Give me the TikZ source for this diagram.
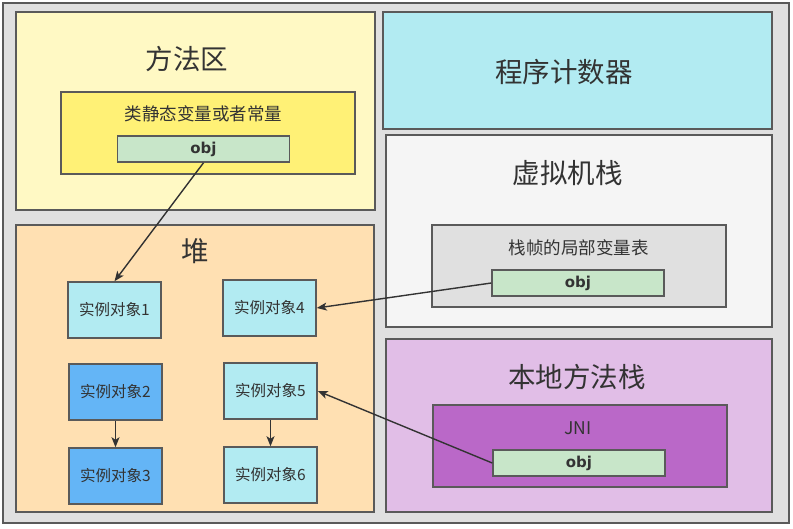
\documentclass[tikz,border=0pt]{standalone}
\usepackage{fontspec}
\setmainfont{Noto Sans CJK SC}
\newfontfamily\objfont{DejaVu Sans}
\usetikzlibrary{arrows.meta}
\definecolor{bordc}{HTML}{5A5A5A}
\definecolor{txtc}{HTML}{333333}
\definecolor{outerc}{HTML}{E0E0E0}
\definecolor{methodc}{HTML}{FFF9C4}
\definecolor{staticc}{HTML}{FFF176}
\definecolor{objc}{HTML}{C8E6C9}
\definecolor{pcc}{HTML}{B2EBF2}
\definecolor{vmsc}{HTML}{F5F5F5}
\definecolor{framec}{HTML}{E0E0E0}
\definecolor{nativec}{HTML}{E1BEE7}
\definecolor{jnic}{HTML}{BA68C8}
\definecolor{heapc}{HTML}{FFE0B2}
\definecolor{instc}{HTML}{B2EBF2}
\definecolor{inst2c}{HTML}{64B5F6}
\begin{document}
\begin{tikzpicture}[x=1pt,y=-1pt,
  region/.style={draw=bordc,line width=1.5pt,inner sep=0pt,rectangle},
  title/.style={text=txtc,font=\fontsize{27.5}{32}\selectfont,inner sep=0pt},
  subtitle/.style={text=txtc,font=\fontsize{17.5}{20}\selectfont,inner sep=0pt},
  objbox/.style={region,fill=objc,minimum width=172pt,minimum height=26pt,text=txtc,font=\objfont\bfseries\fontsize{15}{17}\selectfont},
  inst/.style={region,fill=instc,minimum width=93pt,minimum height=56pt,text=txtc,font=\fontsize{15.5}{18}\selectfont},
  conn/.style={draw=txtc,line width=1.4pt,-{Stealth[length=10pt,width=8pt,inset=2.5pt]}}
]
\useasboundingbox (0,0) rectangle (793,528);
\fill[white] (0,0) rectangle (793,528);
\node[region,fill=outerc,minimum width=786pt,minimum height=520pt] (outer) at (396,263) {};

% method area
\node[region,fill=methodc,minimum width=359pt,minimum height=198pt] (method) at (195.5,111) {};
\node[title] (methodt) at (187,59) {方法区};
\node[region,fill=staticc,minimum width=294pt,minimum height=82pt] (static) at (208,133) {};
\node[subtitle] (statict) at (203.5,114) {类静态变量或者常量};
\node[objbox] (obj1) at (203.5,149) {\raisebox{-1.5pt}{obj}};

% program counter
\node[region,fill=pcc,minimum width=389pt,minimum height=117pt] (pc) at (577.5,70.5) {};
\node[title] (pct) at (564,72) {程序计数器};

% vm stack
\node[region,fill=vmsc,minimum width=386pt,minimum height=192pt] (vms) at (579,231) {};
\node[title] (vmst) at (567.5,173) {虚拟机栈};
\node[region,fill=framec,minimum width=294pt,minimum height=82pt] (frame) at (579,266) {};
\node[subtitle] (framet) at (578.5,248) {栈帧的局部变量表};
\node[objbox] (obj2) at (578,283) {\raisebox{-1.5pt}{obj}};

% native method stack
\node[region,fill=nativec,minimum width=386pt,minimum height=173pt] (native) at (579,425.5) {};
\node[title] (nativet) at (577,377) {本地方法栈};
\node[region,fill=jnic,minimum width=294pt,minimum height=82pt] (jni) at (580,446) {};
\node[subtitle] (jnit) at (578,428) {JNI};
\node[objbox] (obj3) at (579,463) {\raisebox{-1.5pt}{obj}};

% heap
\node[region,fill=heapc,minimum width=358pt,minimum height=287pt] (heap) at (195,368.5) {};
\node[title] (heapt) at (195,251) {堆};
\node[inst] (i1) at (114.5,310) {实例对象1};
\node[inst] (i4) at (269.5,308) {实例对象4};
\node[inst,fill=inst2c] (i2) at (115.5,392) {实例对象2};
\node[inst,fill=inst2c] (i3) at (115.5,476) {实例对象3};
\node[inst] (i5) at (270.5,391) {实例对象5};
\node[inst] (i6) at (270.5,475) {实例对象6};

% connectors
\draw[conn] (obj1.south) -- (i1.north);
\draw[conn] (obj2.west) -- (i4.east);
\draw[conn] (obj3.west) -- (i5.east);
\draw[conn] (i2.south) -- (i3.north);
\draw[conn] (i5.south) -- (i6.north);
\end{tikzpicture}
\end{document}
